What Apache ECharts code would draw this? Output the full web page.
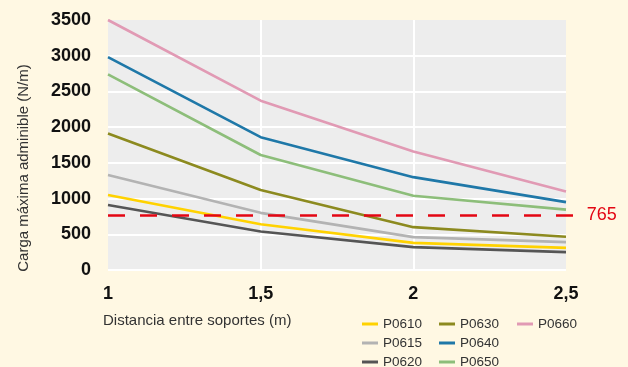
<!DOCTYPE html>
<html>
<head>
<meta charset="utf-8">
<script src="https://cdn.jsdelivr.net/npm/echarts@6/dist/echarts.min.js"></script>
<style>
  html, body { margin: 0; padding: 0; background: #FFF8E3; }
  #chart { width: 628px; height: 367px; }
</style>
</head>
<body>
<div id="chart"></div>
<script>
// distancia entre soportes (m)
var distancias = [1, 1.5, 2, 2.5];
// carga maxima admisible (N/m) por perfil
var p0610 = [1050, 640, 380, 310];
var p0615 = [1330, 800, 460, 390];
var p0620 = [910, 540, 320, 250];
var p0630 = [1910, 1120, 600, 465];
var p0640 = [2980, 1860, 1300, 950];
var p0650 = [2740, 1610, 1040, 845];
var p0660 = [3500, 2370, 1660, 1100];
var limite = 765;

var fuente = "'Liberation Sans', Arial, Helvetica, sans-serif";

function pares(vals) {
	return distancias.map(function (d, i) { return [d, vals[i]]; });
}

function serie(nombre, vals, color) {
	return {
		name: nombre,
		type: 'line',
		data: pares(vals),
		symbol: 'none',
		color: color,
		lineStyle: { width: 2.6, color: color }
	};
}

function leyenda(left, nombres) {
	return {
		orient: 'vertical',
		left: left,
		top: 317,
		height: 70,
		padding: 0,
		itemGap: 5,
		icon: 'rect',
		itemWidth: 16,
		itemHeight: 3,
		data: nombres,
		textStyle: { fontFamily: fuente, fontSize: 13.5, color: '#333', lineHeight: 14 }
	};
}

var chart = echarts.init(document.getElementById('chart'));

var series = [
	serie('P0610', p0610, '#FFD200'),
	serie('P0615', p0615, '#B3B3B3'),
	serie('P0620', p0620, '#555555'),
	serie('P0630', p0630, '#8C8A1F'),
	serie('P0640', p0640, '#1F78A8'),
	serie('P0650', p0650, '#8DBE7A'),
	serie('P0660', p0660, '#E19AB4')
];
// linea de referencia 765
series[0].markLine = {
	silent: true,
	symbol: 'none',
	lineStyle: { color: '#E30613', type: [17, 15], width: 2.6 },
	label: {
		show: true,
		position: 'end',
		distance: 9,
		formatter: String(limite),
		color: '#E30613',
		fontSize: 18,
		fontFamily: fuente
	},
	data: [[{ xAxis: distancias[0], yAxis: limite }, { x: '92%', yAxis: limite }]]
};

chart.setOption({
	backgroundColor: '#FFF8E3',
	animation: false,
	title: {
		text: 'Distancia entre soportes (m)',
		left: 103,
		top: 313,
		padding: 0,
		textStyle: { fontFamily: fuente, fontSize: 15, fontWeight: 'normal', color: '#333' }
	},
	graphic: [{
		type: 'text',
		x: 24,
		y: 168,
		rotation: Math.PI / 2,
		style: {
			text: 'Carga máxima adminible (N/m)',
			font: '15px ' + fuente,
			fill: '#333',
			textAlign: 'center',
			textVerticalAlign: 'middle'
		}
	}],
	legend: [
		leyenda(362, ['P0610', 'P0615', 'P0620']),
		leyenda(439, ['P0630', 'P0640', 'P0650']),
		leyenda(517, ['P0660'])
	],
	grid: {
		left: 108,
		right: 62,
		top: 20,
		bottom: 97,
		show: true,
		backgroundColor: '#EDEDED',
		borderWidth: 0
	},
	xAxis: {
		type: 'value',
		min: 1,
		max: 2.5,
		interval: 0.5,
		axisLine: { show: false },
		axisTick: { show: false },
		axisLabel: {
			margin: 15,
			color: '#111',
			fontWeight: 'bold',
			fontSize: 18,
			fontFamily: fuente,
			formatter: function (v) { return String(v).replace('.', ','); }
		},
		splitLine: { show: true, showMinLine: false, showMaxLine: false, lineStyle: { color: '#fff', width: 2 } }
	},
	yAxis: {
		type: 'value',
		min: 0,
		max: 3500,
		interval: 500,
		axisLine: { show: false },
		axisTick: { show: false },
		axisLabel: {
			margin: 17,
			color: '#111',
			fontWeight: 'bold',
			fontSize: 18,
			fontFamily: fuente,
			formatter: function (v) { return String(v); }
		},
		splitLine: { show: true, showMaxLine: false, lineStyle: { color: '#fff', width: 2 } }
	},
	series: series
});
</script>
</body>
</html>
